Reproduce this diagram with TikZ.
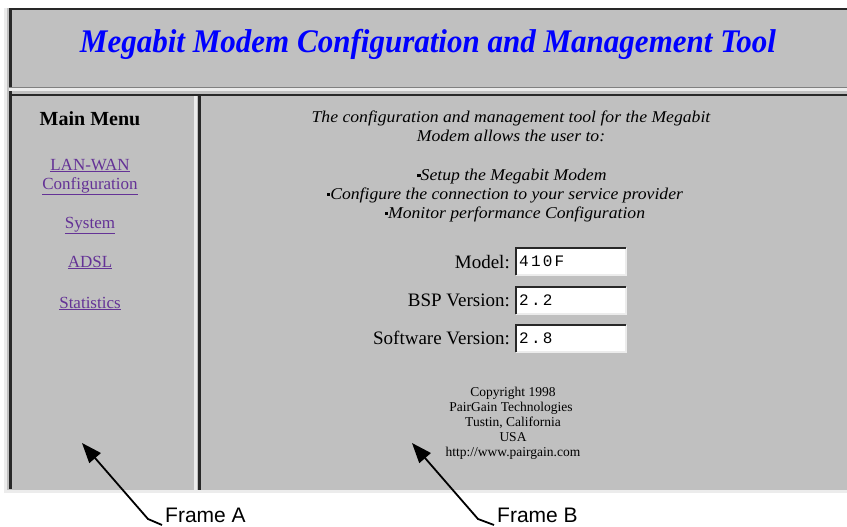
\documentclass[tikz,border=0pt]{standalone}
\usepackage{fontspec}
\setmainfont{Liberation Serif}
\newfontfamily\fieldmono[LetterSpace=14]{Liberation Mono}
\newfontfamily\calloutfont{Liberation Sans}
\usetikzlibrary{arrows.meta}

\definecolor{panel}{RGB}{192,192,192}
\definecolor{edgedark}{RGB}{40,40,40}
\definecolor{edgemid}{RGB}{128,128,128}
\definecolor{edgelight}{RGB}{236,236,236}
\definecolor{titleblue}{RGB}{0,0,255}
\definecolor{linkpurple}{RGB}{100,50,150}

\tikzset{
  txt/.style={inner sep=0pt, anchor=base},
  titletext/.style={txt, text=titleblue, font=\fontsize{33}{33}\selectfont\bfseries\itshape},
  menuhead/.style={txt, font=\fontsize{20}{20}\selectfont\bfseries},
  link/.style={txt, text=linkpurple, font=\fontsize{17}{17}\selectfont},
  intro/.style={txt, font=\fontsize{16.5}{16.5}\selectfont\itshape},
  formlabel/.style={inner sep=0pt, anchor=base east, font=\fontsize{19}{19}\selectfont},
  field/.style={fill=white, inner sep=0pt, minimum width=110pt, minimum height=27pt, anchor=north west},
  fieldtext/.style={inner sep=0pt, anchor=base west, font=\fontsize{16}{16}\selectfont\fieldmono},
  sunkdark/.style={draw=edgedark, line width=2pt},
  sunklight/.style={draw=edgelight, line width=2pt},
  smalltext/.style={txt, font=\fontsize{13.5}{13.5}\selectfont},
  callout/.style={inner sep=0pt, anchor=base west, font=\fontsize{21}{21}\selectfont\calloutfont},
  pointer/.style={line width=1.8pt, -{Triangle[length=20pt,width=15pt]}},
}
% small square bullet of the content list
\newcommand{\blt}{\raisebox{3.4pt}{\rule{3pt}{3pt}}}
% horizontally condensed / widened text
\newcommand{\narrowed}[1]{\scalebox{0.94}[1]{#1}}
\newcommand{\widened}[1]{\scalebox{1.07}[1]{#1}}

\begin{document}
\begin{tikzpicture}[x=1pt,y=-1pt]
  \useasboundingbox (0,0) rectangle (847,527);
  \fill[white] (0,0) rectangle (847,527);

  % browser window background
  \fill[panel] (4,8) rectangle (847,493);
  % outer bevel
  \fill[edgelight] (4,8) rectangle (7,493);
  \fill[edgelight] (4,490) rectangle (847,493);
  \fill[edgedark] (9,8) rectangle (847,10.5);
  \fill[edgedark] (9,8) rectangle (11.5,489);
  % header / body separator
  \fill[edgemid] (9,87) rectangle (847,88.5);
  \fill[edgelight] (9,88.5) rectangle (847,91.5);
  \fill[edgedark] (9,94) rectangle (847,96.5);
  % left / right frame separator
  \fill[edgelight] (193.5,96.5) rectangle (196.5,490);
  \fill[edgedark] (198,96.5) rectangle (200.5,490);

  % header frame
  \node[titletext] (title) at (428,53) {\narrowed{Megabit Modem Configuration and Management Tool}};

  % frame A: menu
  \node[menuhead] (menu) at (90,125) {Main Menu};
  \node[link] (lan) at (90,170) {\underline{LAN-WAN}};
  \node[link] (conf) at (90,189) {\underline{Configuration}};
  \node[link] (sys) at (90,228) {\underline{System}};
  \node[link] (adsl) at (90,267) {\underline{ADSL}};
  \node[link] (stats) at (90,308) {\underline{Statistics}};

  % frame B: content
  \node[intro] (i1) at (511,122) {\widened{The configuration and management tool for the Megabit}};
  \node[intro] (i2) at (511,141) {\widened{Modem allows the user to:}};
  \node[intro] (b1) at (512,180) {\widened{\blt Setup the Megabit Modem}};
  \node[intro] (b2) at (505,199) {\widened{\blt Configure the connection to your service provider}};
  \node[intro] (b3) at (515,218) {\widened{\blt Monitor performance Configuration}};

  \node[formlabel] (lmodel) at (510,268) {Model:};
  \node[formlabel] (lbsp) at (510,306) {BSP Version:};
  \node[formlabel] (lsw) at (510,344) {Software Version:};

  \foreach \nm/\yy/\val in {fmodel/248/410F, fbsp/287/2.2, fsw/325/2.8}{
    \node[field] (\nm) at (516,\yy) {};
    \draw[sunklight] (\nm.south west) -- (\nm.south east) -- (\nm.north east);
    \draw[sunkdark] (\nm.south west) -- (\nm.north west) -- (\nm.north east);
    \node[fieldtext] at ([xshift=3pt,yshift=-18.5pt]\nm.north west) {\val};
  }

  \node[smalltext] (c1) at (513,396) {Copyright 1998};
  \node[smalltext] (c2) at (511,411) {PairGain Technologies};
  \node[smalltext] (c3) at (513,426) {Tustin, California};
  \node[smalltext] (c4) at (513,441) {USA};
  \node[smalltext] (c5) at (513,456) {http://www.pairgain.com};

  % callouts
  \node[callout] (fa) at (165,522) {Frame A};
  \node[callout] (fb) at (497,522) {Frame B};
  \coordinate (ea) at (148,519);
  \coordinate (ta) at (82,443);
  \coordinate (eb) at (478,519);
  \coordinate (tb) at (412,443);
  \draw[pointer] ([xshift=-3pt,yshift=-3pt]fa.base west) -- (ea) -- (ta);
  \draw[pointer] ([xshift=-3pt,yshift=-3pt]fb.base west) -- (eb) -- (tb);
\end{tikzpicture}
\end{document}
